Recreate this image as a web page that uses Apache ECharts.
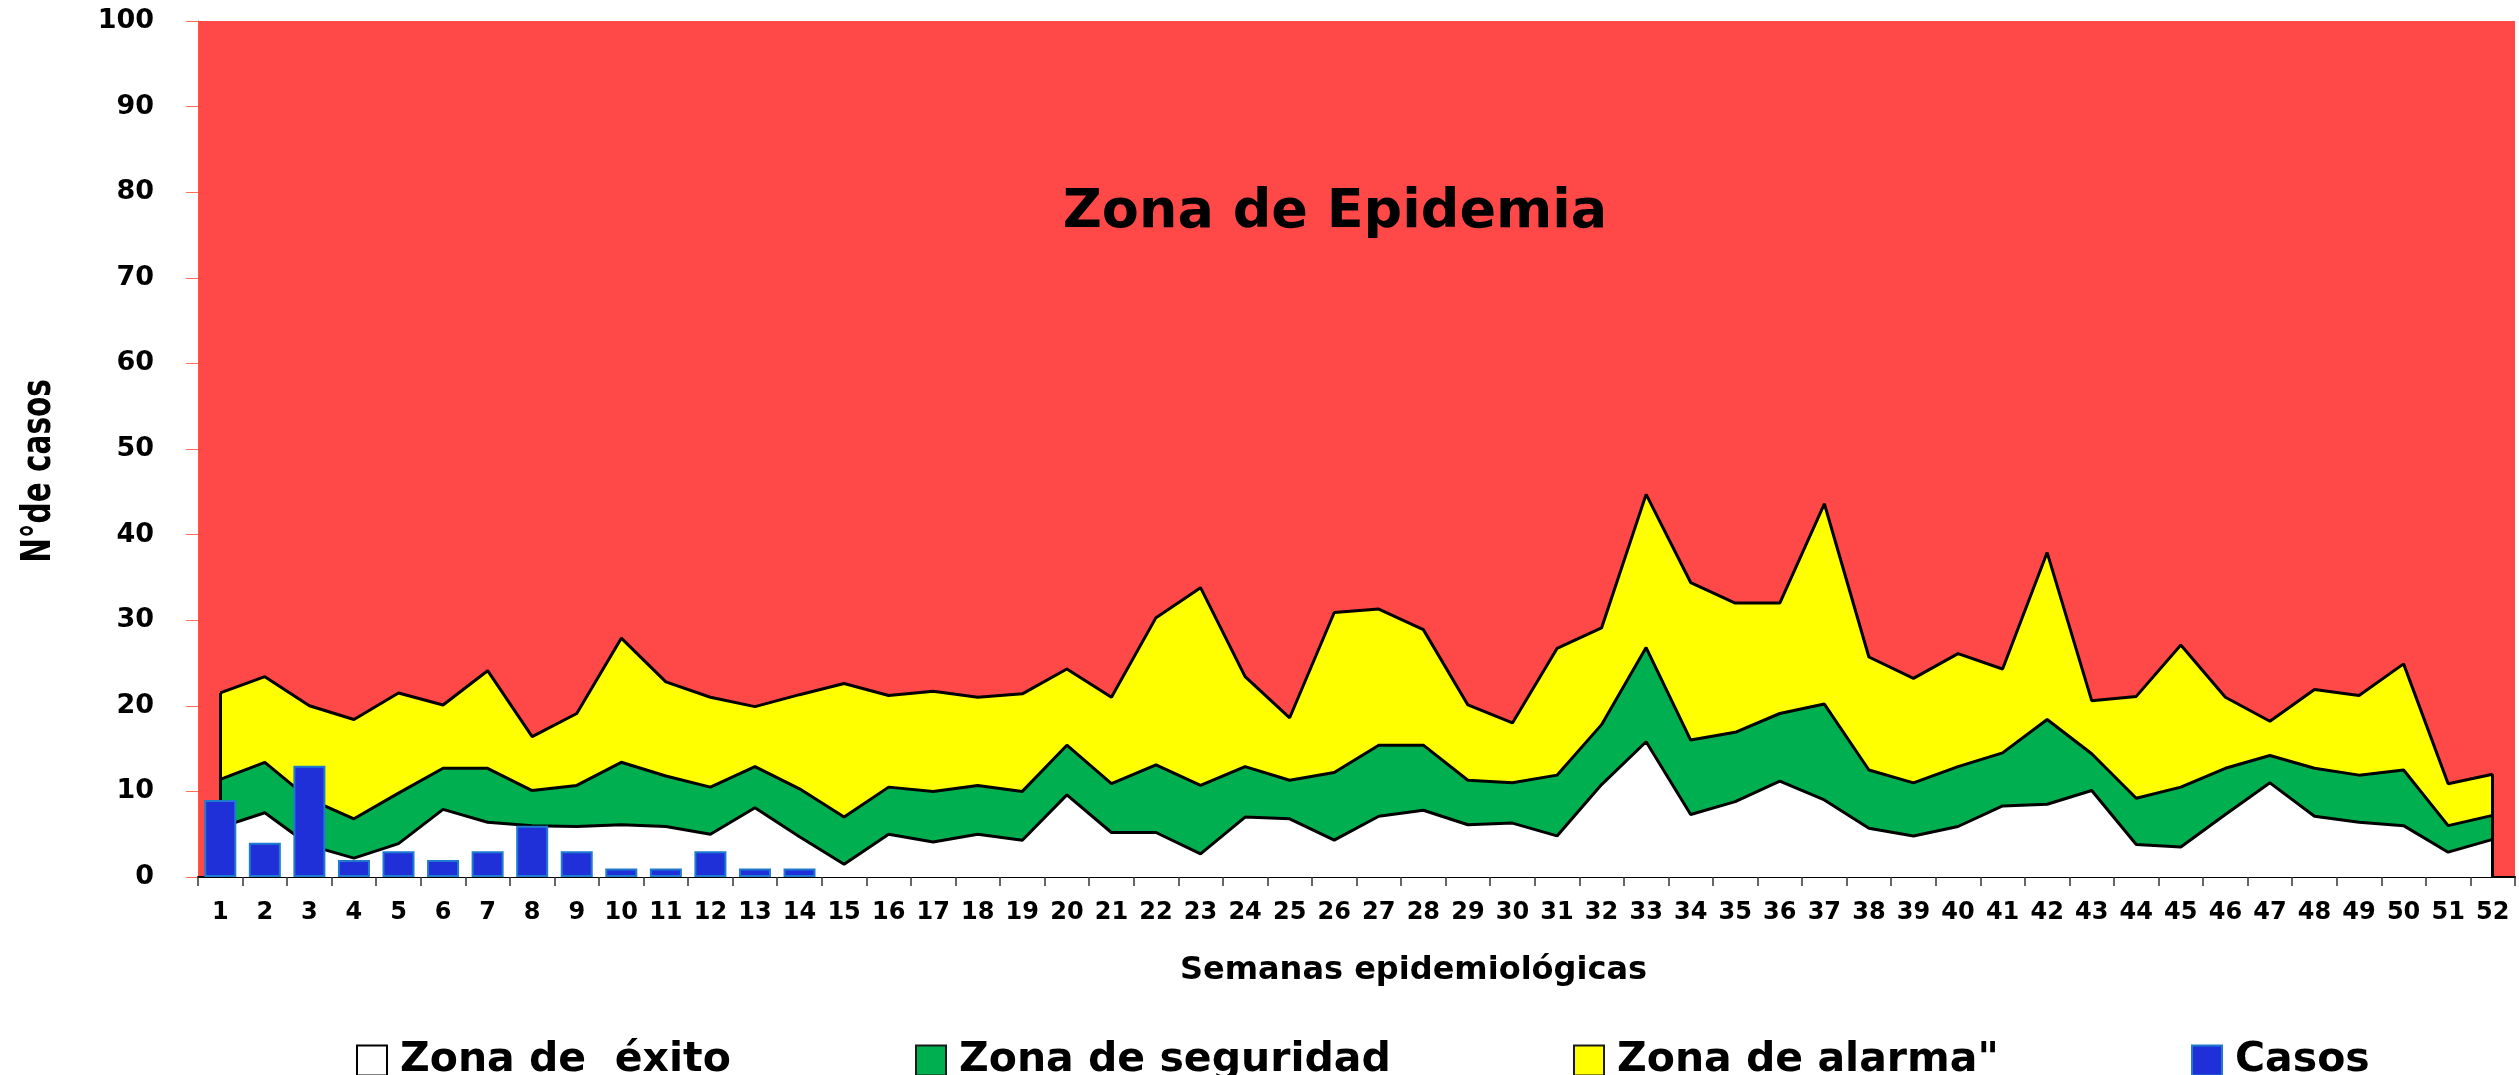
<!DOCTYPE html>
<html>
<head>
<meta charset="utf-8">
<title>Canal endémico</title>
<script src="https://cdn.jsdelivr.net/npm/echarts@6/dist/echarts.min.js"></script>
<style>
html, body { margin: 0; padding: 0; background: #fff; }
#main { width: 2519px; height: 1075px; }
</style>
</head>
<body>
<div id="main"></div>
<script>
// semanas epidemiologicas 1..52
var semanas = ['1','2','3','4','5','6','7','8','9','10','11','12','13','14','15','16','17','18','19','20',
  '21','22','23','24','25','26','27','28','29','30','31','32','33','34','35','36','37','38','39','40',
  '41','42','43','44','45','46','47','48','49','50','51','52']

// limite superior de cada zona
var zonaExito = [5.8, 7.5, 3.7, 2.2, 3.9, 7.9, 6.4, 6.0, 5.9, 6.1, 5.9, 5.0, 8.1, 4.7, 1.5, 5.0, 4.1, 5.0, 4.3, 9.6,
  5.2, 5.2, 2.7, 7.0, 6.8, 4.3, 7.1, 7.8, 6.1, 6.3, 4.8, 10.8, 15.8, 7.3, 8.8, 11.2, 9.0, 5.7, 4.8, 5.9,
  8.3, 8.5, 10.1, 3.8, 3.5, 7.3, 11.0, 7.1, 6.4, 6.0, 2.9, 4.4]
var zonaSeguridad = [11.4, 13.4, 9.1, 6.8, 9.8, 12.7, 12.7, 10.1, 10.7, 13.4, 11.8, 10.5, 12.9, 10.3, 7.0, 10.5, 10.0, 10.7, 10.0, 15.4,
  10.9, 13.1, 10.7, 12.9, 11.3, 12.2, 15.4, 15.4, 11.3, 11.0, 11.9, 17.8, 26.8, 16.0, 16.9, 19.1, 20.2, 12.5, 11.0, 12.9,
  14.5, 18.4, 14.4, 9.2, 10.5, 12.7, 14.2, 12.7, 11.9, 12.5, 6.0, 7.2]
var zonaAlarma = [21.5, 23.4, 20.0, 18.4, 21.5, 20.1, 24.1, 16.4, 19.1, 27.9, 22.8, 21.0, 19.9, 21.3, 22.6, 21.2, 21.7, 21.0, 21.4, 24.3,
  21.0, 30.3, 33.8, 23.4, 18.6, 30.9, 31.3, 28.9, 20.1, 18.0, 26.7, 29.1, 44.7, 34.4, 32.0, 32.0, 43.6, 25.7, 23.2, 26.1,
  24.3, 37.9, 20.6, 21.1, 27.1, 21.0, 18.2, 21.9, 21.2, 24.9, 10.9, 12.0]
// casos notificados (solo hasta la semana 14)
var casos = [9, 4, 13, 2, 3, 2, 3, 6, 3, 1, 1, 3, 1, 1]

var yTicks = [0, 100, 10] // min, max, intervalo

var chartDom = document.getElementById('main')
var myChart = echarts.init(chartDom)
var option

function zona(name, data, color) {
  return {
    name: name,
    type: 'line',
    z: 2,
    data: data,
    symbol: 'none',
    smooth: false,
    lineStyle: { color: '#000', width: 3 },
    itemStyle: { color: color },
    areaStyle: { color: color, opacity: 1, origin: 'start' }
  }
}

function leyenda(name, left, fill, border) {
  return {
    left: left,
    top: 1040,
    padding: 0,
    itemWidth: 30,
    itemHeight: 30,
    selectedMode: false,
    textStyle: { fontFamily: 'DejaVu Sans', fontWeight: 'bold', fontSize: 41, color: '#000', padding: [0, 0, 0, 8] },
    data: [{ name: name, icon: 'rect', itemStyle: { color: fill, borderColor: border, borderWidth: 2 } }]
  }
}

var bordes = zona('Zona de  éxito', zonaExito, '#ffffff')
bordes.markLine = {
  silent: true,
  symbol: ['none', 'none'],
  label: { show: false },
  lineStyle: { color: '#000', width: 3, type: 'solid' },
  data: [
    [{ coord: [semanas[0], 0] }, { coord: [semanas[0], zonaAlarma[0]] }],
    [{ coord: [semanas[51], 0] }, { coord: [semanas[51], zonaAlarma[51]] }]
  ]
}

option = {
  animation: false,
  backgroundColor: '#fff',
  grid: {
    left: 198,
    right: 4,
    top: 21,
    bottom: 198,
    show: true,
    backgroundColor: '#ff4848',
    borderWidth: 0
  },
  legend: [
    leyenda('Zona de  éxito', 356, '#ffffff', '#000'),
    leyenda('Zona de seguridad', 915, '#00b050', '#1a1a1a'),
    leyenda('Zona de alarma"', 1573, '#ffff00', '#1a1a1a'),
    leyenda('Casos', 2191, '#2030d8', '#1f7bd0')
  ],
  graphic: [{
    type: 'text',
    x: 1335,
    y: 213,
    style: {
      text: 'Zona de Epidemia',
      fill: '#000',
      font: 'bold 54px "DejaVu Sans"',
      align: 'center',
      verticalAlign: 'middle'
    }
  }, {
    // titulo del eje y, letra estrecha
    type: 'text',
    x: 40,
    y: 471,
    rotation: Math.PI / 2,
    scaleX: 0.82,
    style: {
      text: 'N°de casos',
      fill: '#000',
      font: 'bold 40px "DejaVu Sans Condensed", "DejaVu Sans"',
      align: 'center',
      verticalAlign: 'middle'
    }
  }],
  xAxis: {
    type: 'category',
    data: semanas,
    boundaryGap: true,
    name: 'Semanas epidemiológicas',
    nameLocation: 'middle',
    nameGap: 78,
    nameTextStyle: { fontFamily: 'DejaVu Sans', fontWeight: 'bold', fontSize: 32, color: '#000', padding: [0, 0, 0, 114] },
    axisLine: { lineStyle: { color: '#000', width: 2 } },
    axisTick: { show: true, length: 9, lineStyle: { color: '#333', width: 1.5 } },
    axisLabel: { interval: 0, margin: 24, fontFamily: 'DejaVu Sans', fontWeight: 'bold', fontSize: 24, color: '#000' }
  },
  yAxis: {
    type: 'value',
    min: yTicks[0],
    max: yTicks[1],
    interval: yTicks[2],
    axisLine: { show: true, lineStyle: { color: '#ff5a3c', width: 1 } },
    axisTick: { show: true, length: 12, lineStyle: { color: '#ff6f5a', width: 1 } },
    splitLine: { show: false },
    axisLabel: { margin: 44, fontFamily: 'DejaVu Sans', fontWeight: 'bold', fontSize: 27, color: '#000' }
  },
  series: [
    zona('Zona de alarma"', zonaAlarma, '#ffff00'),
    zona('Zona de seguridad', zonaSeguridad, '#00b050'),
    bordes,
    {
      name: 'Casos',
      type: 'bar',
      z: 5,
      data: casos,
      barWidth: 32,
      itemStyle: { color: '#2030d8', borderColor: '#1f7bd0', borderWidth: 2 }
    }
  ]
}

option && myChart.setOption(option)
</script>
</body>
</html>
